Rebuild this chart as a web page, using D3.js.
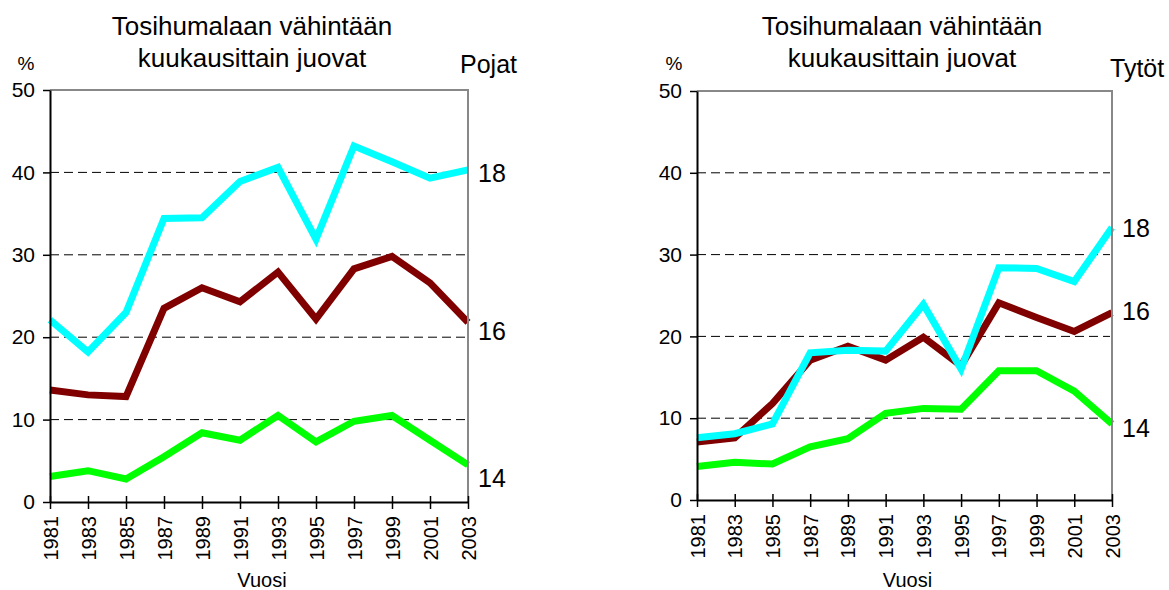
<!DOCTYPE html>
<html>
<head>
<meta charset="utf-8">
<script src="https://cdn.jsdelivr.net/npm/d3@7"></script>
<style>
body { margin: 0; background: #fff; }
svg { display: block; font-family: "Liberation Sans", Arial, sans-serif; }
</style>
</head>
<body>
<svg id="chart" width="1169" height="590"></svg>
<script>

var years = ['1981', '1983', '1985', '1987', '1989', '1991', '1993', '1995', '1997', '1999', '2001', '2003'];
var yTicks = [0, 10, 20, 30, 40, 50];
var gridTicks = [10, 20, 30, 40];
var titleLines = ['Tosihumalaan vähintään', 'kuukausittain juovat'];
var ages = ['14', '16', '18'];

// Pojat
var boys14 = [3.1, 3.8, 2.8, 5.5, 8.4, 7.5, 10.5, 7.3, 9.8, 10.5, 7.5, 4.5];
var boys16 = [13.6, 13.0, 12.8, 23.5, 26.0, 24.3, 27.9, 22.2, 28.3, 29.8, 26.6, 21.8];
var boys18 = [22.1, 18.2, 23.0, 34.4, 34.5, 38.9, 40.6, 31.9, 43.2, 41.3, 39.3, 40.3];

// Tytöt
var girls14 = [4.1, 4.6, 4.4, 6.5, 7.5, 10.6, 11.2, 11.1, 15.8, 15.8, 13.3, 9.3];
var girls16 = [7.1, 7.6, 11.8, 17.1, 18.8, 17.1, 19.9, 16.4, 24.1, 22.3, 20.6, 22.9];
var girls18 = [7.6, 8.1, 9.3, 18.0, 18.3, 18.2, 23.9, 16.0, 28.4, 28.3, 26.7, 33.3];

var colors = { '14': '#00ff00', '16': '#800000', '18': '#00ffff' };

var svg = d3.select('#chart');

var draw_panel = function(p) {

    var x = d3.scalePoint().domain(years).range([p.left, p.right]);
    var y = d3.scaleLinear().domain([0, 50]).range([p.bottom, p.top]);

    var g = svg.append('g');

    // title
    g.append('text')
	.attr('x', p.titleX).attr('y', 35)
	.attr('text-anchor', 'middle')
	.style('font-size', '26px')
	.text(titleLines[0]);
    g.append('text')
	.attr('x', p.titleX).attr('y', 67)
	.attr('text-anchor', 'middle')
	.style('font-size', '26px')
	.text(titleLines[1]);

    g.append('text')
	.attr('x', p.pctX).attr('y', 70)
	.attr('text-anchor', 'middle')
	.style('font-size', '19px')
	.text('%');

    g.append('text')
	.attr('x', p.nameX).attr('y', p.nameY)
	.style('font-size', '25px')
	.text(p.name);

    // dashed grid
    g.selectAll('.grid')
	.data(gridTicks)
	.enter().append('line')
	.attr('class', 'grid')
	.attr('x1', p.left).attr('x2', p.right - 2)
	.attr('y1', function(d) { return y(d); })
	.attr('y2', function(d) { return y(d); })
	.attr('stroke', '#000')
	.attr('stroke-width', 1)
	.attr('stroke-dasharray', '9,5');

    var line = d3.line()
	.x(function(d, i) { return x(years[i]); })
	.y(function(d) { return y(d); });

    for ( var i = 0; i < ages.length; i++ ) {

	g.append('path')
	    .datum(p.series[ages[i]])
	    .attr('d', line)
	    .attr('fill', 'none')
	    .attr('stroke', colors[ages[i]])
	    .attr('stroke-width', 7)
	    .attr('stroke-linejoin', 'miter');

    }

    // grey frame top and right
    g.append('path')
	.attr('d', 'M' + p.left + ',' + y(50) + 'H' + p.right + 'V' + y(0))
	.attr('fill', 'none')
	.attr('stroke', '#888')
	.attr('stroke-width', 2);

    var yAxis = g.append('g')
	.attr('transform', 'translate(' + p.left + ',0)')
	.call(d3.axisLeft(y).tickValues(yTicks).tickSize(7).tickSizeOuter(0).tickPadding(8));

    yAxis.select('.domain').attr('stroke-width', 2);
    yAxis.selectAll('.tick line').attr('stroke-width', 1.5);
    yAxis.selectAll('text')
	.style('font-size', '21px')
	.style('font-family', '"Liberation Sans", Arial, sans-serif')
	.attr('fill', '#000');

    var xAxis = g.append('g')
	.attr('transform', 'translate(0,' + p.bottom + ')')
	.call(d3.axisBottom(x).tickSize(7).tickSizeOuter(0));

    xAxis.select('.domain').attr('stroke-width', 2);
    xAxis.selectAll('.tick line').attr('y1', -6).attr('stroke-width', 1.5);
    xAxis.selectAll('text')
	.attr('transform', 'rotate(-90)')
	.attr('x', -14)
	.attr('y', 0)
	.attr('dy', '0.35em')
	.style('text-anchor', 'end')
	.style('font-size', '20px')
	.style('font-family', '"Liberation Sans", Arial, sans-serif')
	.attr('fill', '#000');

    g.append('text')
	.attr('x', (p.left + p.right) / 2 + 3).attr('y', 587)
	.attr('text-anchor', 'middle')
	.style('font-size', '20px')
	.text('Vuosi');

    // age labels at the line ends
    for ( var j = 0; j < ages.length; j++ ) {

	var s = p.series[ages[j]];

	g.append('text')
	    .attr('x', p.right + 10)
	    .attr('y', y(s[s.length - 1]) + p.labelShift[j])
	    .attr('dy', '0.35em')
	    .style('font-size', '25px')
	    .text(ages[j]);

    }

};

draw_panel({
    left: 50, right: 468, top: 90, bottom: 502,
    titleX: 252, pctX: 26, nameX: 460, nameY: 73, name: 'Pojat',
    series: { '14': boys14, '16': boys16, '18': boys18 },
    labelShift: [13, 9, 3]
});

draw_panel({
    left: 697, right: 1112, top: 91, bottom: 500,
    titleX: 902, pctX: 674, nameX: 1110, nameY: 77, name: 'Tytöt',
    series: { '14': girls14, '16': girls16, '18': girls18 },
    labelShift: [4, -1, 1]
});

</script>
</body>
</html>
